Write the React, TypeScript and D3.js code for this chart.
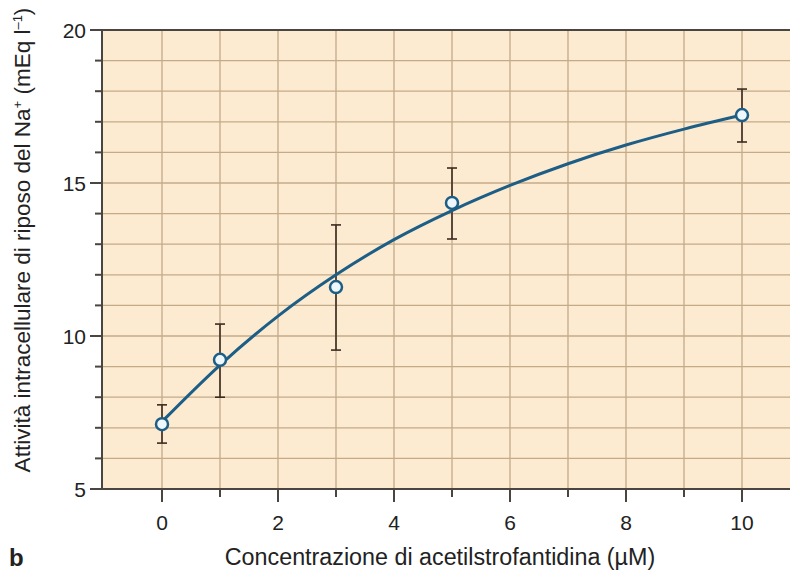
import React from "react";
import * as d3 from "d3";

const concentrations = [0, 1, 3, 5, 10];
const meanNa = [7.12, 9.22, 11.6, 14.35, 17.22];
const errLow = [6.5, 8.0, 9.54, 13.17, 16.34];
const errHigh = [7.75, 10.39, 13.63, 15.49, 18.07];

const fitX = [0, 1, 2, 3, 4, 5, 6, 7, 8, 9, 10];
const fitY = [7.2, 9.05, 10.65, 12.0, 13.15, 14.1, 14.92, 15.63, 16.24, 16.76, 17.22];

const xMajorTicks = [0, 2, 4, 6, 8, 10];
const xMinorTicks = [1, 3, 5, 7, 9];
const yMajorTicks = [5, 10, 15, 20];
const yMinorTicks = [6, 7, 8, 9, 11, 12, 13, 14, 16, 17, 18, 19];
const xGrid = [0, 1, 2, 3, 4, 5, 6, 7, 8, 9, 10];
const yGrid = [6, 7, 8, 9, 10, 11, 12, 13, 14, 15, 16, 17, 18, 19];

const W = 790;
const H = 575;
const left = 102;
const right = 790;
const top = 30;
const bottom = 489;

export default function App() {
  const x = d3.scaleLinear().domain([0, 10]).range([162, 742]);
  const y = d3.scaleLinear().domain([5, 20]).range([bottom, top]);
  const font = "'Liberation Sans', Arial, Helvetica, sans-serif";
  const line = d3
    .line<number>()
    .x((_, i) => x(fitX[i]))
    .y((d) => y(d))
    .curve(d3.curveMonotoneX);
  const gridColor = "#c4aa88";
  const axisColor = "#4a4540";
  const curveColor = "#1d5e86";
  const errColor = "#3b2b20";

  return (
    <svg
      width={W}
      height={H}
      style={{ position: "absolute", left: 0, top: 0, background: "#fff" }}
      fontFamily={font}
    >
      <rect x={left} y={top} width={right - left} height={bottom - top} fill="#fdebd1" />
      {xGrid.map((v) => (
        <line key={"gx" + v} x1={x(v)} x2={x(v)} y1={top} y2={bottom} stroke={gridColor} strokeWidth={1.3} />
      ))}
      {yGrid.map((v) => (
        <line key={"gy" + v} x1={left} x2={right} y1={y(v)} y2={y(v)} stroke={gridColor} strokeWidth={1.3} />
      ))}
      {/* top border */}
      <line x1={left} x2={right} y1={top} y2={top} stroke={axisColor} strokeWidth={2} />
      {/* axes */}
      <line x1={left} x2={left} y1={top - 1} y2={bottom + 1} stroke={axisColor} strokeWidth={2} />
      <line x1={left - 1} x2={right} y1={bottom} y2={bottom} stroke={axisColor} strokeWidth={2} />
      {xMajorTicks.map((v) => (
        <g key={"xt" + v}>
          <line x1={x(v)} x2={x(v)} y1={bottom} y2={bottom + 13} stroke={axisColor} strokeWidth={2} />
          <text x={x(v)} y={530} textAnchor="middle" fontSize={21} fill="#222">
            {v}
          </text>
        </g>
      ))}
      {xMinorTicks.map((v) => (
        <line key={"xm" + v} x1={x(v)} x2={x(v)} y1={bottom} y2={bottom + 8} stroke={axisColor} strokeWidth={2} />
      ))}
      {yMajorTicks.map((v) => (
        <g key={"yt" + v}>
          <line x1={left - 12} x2={left} y1={y(v)} y2={y(v)} stroke={axisColor} strokeWidth={2} />
          <text x={left - 16} y={y(v) + 7.5} textAnchor="end" fontSize={21} fill="#222">
            {v}
          </text>
        </g>
      ))}
      {yMinorTicks.map((v) => (
        <line key={"ym" + v} x1={left - 7} x2={left} y1={y(v)} y2={y(v)} stroke={axisColor} strokeWidth={2} />
      ))}
      {/* error bars */}
      {concentrations.map((c, i) => (
        <g key={"e" + i} stroke={errColor} strokeWidth={1.6}>
          <line x1={x(c)} x2={x(c)} y1={y(errLow[i])} y2={y(errHigh[i])} />
          <line x1={x(c) - 5} x2={x(c) + 5} y1={y(errLow[i])} y2={y(errLow[i])} />
          <line x1={x(c) - 5} x2={x(c) + 5} y1={y(errHigh[i])} y2={y(errHigh[i])} />
        </g>
      ))}
      <path d={line(fitY) || ""} fill="none" stroke={curveColor} strokeWidth={3} />
      {concentrations.map((c, i) => (
        <circle key={"p" + i} cx={x(c)} cy={y(meanNa[i])} r={6} fill="#eef8fc" stroke={curveColor} strokeWidth={2.5} />
      ))}
      <text
        transform={`translate(30, 240) rotate(-90)`}
        textAnchor="middle"
        fontSize={22.5}
        fill="#222"
      >
        Attività intracellulare di riposo del Na
        <tspan dy={-8} fontSize={13}>+</tspan>
        <tspan dy={8}> (mEq l</tspan>
        <tspan dy={-8} fontSize={13}>–1</tspan>
        <tspan dy={8}>)</tspan>
      </text>
      <text x={440} y={565} textAnchor="middle" fontSize={23.3} fill="#222">
        Concentrazione di acetilstrofantidina (µM)
      </text>
      <text x={9} y={566} fontSize={24} fontWeight="bold" fill="#222">
        b
      </text>
    </svg>
  );
}
